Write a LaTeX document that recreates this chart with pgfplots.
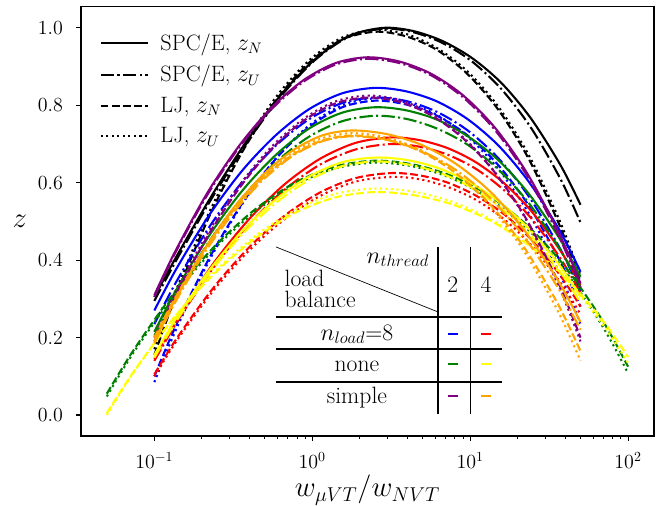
\documentclass[border=0pt]{standalone}
\usepackage{pgfplots}
\usepackage{pgfplotstable}
\pgfplotsset{compat=1.18}
\definecolor{mplgreen}{RGB}{0,128,0}
\definecolor{mplpurple}{RGB}{128,0,128}
\definecolor{mplorange}{RGB}{255,165,0}
\definecolor{mplyellow}{RGB}{255,255,0}
\definecolor{mplblue}{RGB}{0,0,255}
\definecolor{mplred}{RGB}{255,0,0}
\tikzset{
  mpldashdot/.style={dash pattern=on 9.6pt off 2.4pt on 1.5pt off 2.4pt},
  mpldashed/.style={dash pattern=on 5.55pt off 2.4pt},
  mpldotted/.style={dash pattern=on 1.5pt off 2.475pt},
}
% black SPC/E
\pgfplotstableread{
x ksol kdd
0.1 0.305 0.295
0.1396 0.413 0.404
0.2304 0.566 0.559
0.3802 0.705 0.699
0.6273 0.825 0.821
1.035 0.918 0.916
1.708 0.979 0.977
2.818 1.000 0.998
4.340 0.992 0.989
6.678 0.966 0.961
10.28 0.922 0.913
15.83 0.857 0.841
24.37 0.765 0.741
37.52 0.644 0.608
50 0.543 0.497
}\tabA
% black LJ, blue, green SPC/E, yellow SPC/E
\pgfplotstableread{
x kdash kdot bsol bdd bdash bdot gsol gdd ysol ydd
0.1 0.155 0.170 0.270 0.235 0.100 0.085 0.215 0.205 0.155 0.148
0.1380 0.312 0.325 0.378 0.345 0.234 0.223 0.324 0.312 0.251 0.243
0.2239 0.515 0.526 0.518 0.487 0.407 0.401 0.465 0.450 0.375 0.367
0.3631 0.682 0.690 0.633 0.604 0.549 0.547 0.581 0.563 0.477 0.468
0.5888 0.813 0.821 0.723 0.696 0.662 0.663 0.672 0.653 0.557 0.548
0.9550 0.910 0.916 0.790 0.764 0.744 0.748 0.740 0.719 0.616 0.607
1.549 0.970 0.975 0.831 0.806 0.795 0.800 0.781 0.759 0.653 0.643
2.512 0.990 0.995 0.845 0.820 0.812 0.818 0.795 0.773 0.665 0.655
3.935 0.978 0.984 0.836 0.811 0.802 0.807 0.787 0.765 0.659 0.648
6.163 0.943 0.948 0.810 0.783 0.773 0.775 0.763 0.740 0.639 0.628
9.652 0.880 0.887 0.764 0.735 0.722 0.719 0.720 0.698 0.604 0.593
15.11 0.788 0.796 0.696 0.663 0.645 0.635 0.658 0.634 0.552 0.540
23.67 0.659 0.669 0.601 0.563 0.539 0.519 0.570 0.546 0.480 0.468
37.08 0.487 0.500 0.475 0.430 0.398 0.364 0.454 0.428 0.385 0.371
50 0.345 0.360 0.370 0.320 0.280 0.235 0.357 0.330 0.305 0.290
}\tabE
% purple
\pgfplotstableread{
x psol pdd pdash pdot
0.1 0.310 0.305 0.190 0.200
0.1365 0.425 0.421 0.308 0.318
0.2175 0.575 0.570 0.462 0.469
0.3467 0.697 0.693 0.587 0.594
0.5526 0.794 0.790 0.687 0.693
0.8810 0.865 0.861 0.760 0.765
1.404 0.909 0.905 0.805 0.810
2.239 0.924 0.920 0.820 0.825
3.567 0.913 0.909 0.809 0.814
5.684 0.881 0.877 0.774 0.778
9.060 0.825 0.820 0.714 0.717
14.43 0.741 0.735 0.625 0.626
23.00 0.624 0.617 0.502 0.499
36.65 0.469 0.460 0.337 0.330
50 0.340 0.330 0.200 0.190
}\tabB
% orange
\pgfplotstableread{
x osol odd odash odot
0.1 0.190 0.185 0.200 0.190
0.1334 0.293 0.286 0.298 0.291
0.2053 0.425 0.416 0.425 0.422
0.3162 0.534 0.522 0.529 0.529
0.4870 0.620 0.607 0.612 0.614
0.7499 0.683 0.669 0.672 0.677
1.155 0.722 0.707 0.709 0.715
1.778 0.735 0.720 0.722 0.728
2.934 0.726 0.711 0.712 0.717
4.838 0.699 0.683 0.681 0.685
7.981 0.651 0.635 0.627 0.628
13.16 0.580 0.563 0.547 0.543
21.72 0.481 0.463 0.436 0.426
35.82 0.349 0.330 0.288 0.270
50 0.240 0.220 0.165 0.140
}\tabC
% red
\pgfplotstableread{
x rsol rdd rdash rdot
0.1 0.145 0.140 0.105 0.100
0.1413 0.253 0.245 0.203 0.197
0.2371 0.392 0.381 0.329 0.322
0.3981 0.506 0.493 0.433 0.425
0.6683 0.596 0.582 0.515 0.506
1.122 0.662 0.647 0.575 0.566
1.884 0.703 0.686 0.612 0.603
3.162 0.717 0.700 0.625 0.615
4.785 0.710 0.693 0.619 0.609
7.238 0.689 0.672 0.600 0.589
10.96 0.652 0.635 0.566 0.555
16.58 0.597 0.579 0.517 0.504
25.08 0.521 0.502 0.448 0.433
37.94 0.420 0.400 0.356 0.338
50 0.336 0.315 0.280 0.260
}\tabD
% green and yellow LJ
\pgfplotstableread{
x gdash gdot ydash ydot
0.05 0.055 0.048 0.005 0.000
0.07397 0.168 0.162 0.112 0.110
0.1331 0.315 0.308 0.251 0.252
0.2396 0.435 0.429 0.365 0.369
0.4310 0.530 0.524 0.455 0.461
0.7756 0.600 0.594 0.522 0.529
1.396 0.642 0.637 0.562 0.571
2.512 0.657 0.652 0.576 0.585
4.365 0.647 0.642 0.568 0.577
7.586 0.618 0.612 0.545 0.552
13.18 0.567 0.559 0.504 0.508
22.91 0.490 0.481 0.442 0.444
39.81 0.384 0.373 0.357 0.354
69.18 0.243 0.228 0.244 0.234
100 0.125 0.108 0.150 0.135
}\tabF
\begin{document}
\begin{tikzpicture}
\begin{axis}[
  scale only axis, width=412.6pt, height=308.9pt,
  xmode=log, xmin=0.0343, xmax=146, ymin=-0.054, ymax=1.054,
  xtick={0.1,1,10,100},
  ytick={0,0.2,0.4,0.6,0.8,1.0},
  tick align=outside, tick pos=left,
  major tick length=3.5pt, minor tick length=2pt,
  every tick/.style={black, line width=0.8pt},
  every minor tick/.append style={line width=0.6pt},
  axis line style={line width=0.8pt},
  tick label style={font=\fontsize{14.5}{17}\selectfont},
  yticklabel style={xshift=-6pt, /pgf/number format/.cd, fixed, fixed zerofill, precision=1},
  xticklabel style={yshift=-5pt},
  xlabel={$w_{\mu VT}/w_{NVT}$}, ylabel={$z$},
  xlabel style={font=\fontsize{21}{25}\selectfont, at={(axis description cs:0.5,0)}, anchor=center, yshift=-39pt},
  ylabel style={font=\fontsize{21}{25}\selectfont, at={(axis description cs:0,0.5)}, anchor=center, rotate=-90, xshift=-44pt},
  every axis plot/.append style={line width=1.5pt, smooth, no marks},
  legend cell align=left,
  legend image code/.code={\draw[#1] (0pt,0pt) -- (34pt,0pt); \path[draw=none] (0pt,0pt) -- (41pt,0pt);},
  legend style={at={(0.025,0.952)}, anchor=north west, draw=none, fill=none,
    font=\fontsize{16}{19}\selectfont, row sep=5.5pt},
]
\addplot[black] table[x=x,y=ksol]{\tabA}; \addlegendentry{SPC/E, $z_N$}
\addplot[black, mpldashdot] table[x=x,y=kdd]{\tabA}; \addlegendentry{SPC/E, $z_U$}
\addplot[black, mpldashed] table[x=x,y=kdash]{\tabE}; \addlegendentry{LJ, $z_N$}
\addplot[black, mpldotted] table[x=x,y=kdot]{\tabE}; \addlegendentry{LJ, $z_U$}
% blue
\addplot[mplblue, forget plot] table[x=x,y=bsol]{\tabE};
\addplot[mplblue, mpldashdot, forget plot] table[x=x,y=bdd]{\tabE};
\addplot[mplblue, mpldashed, forget plot] table[x=x,y=bdash]{\tabE};
\addplot[mplblue, mpldotted, forget plot] table[x=x,y=bdot]{\tabE};
% red
\addplot[mplred, forget plot] table[x=x,y=rsol]{\tabD};
\addplot[mplred, mpldashdot, forget plot] table[x=x,y=rdd]{\tabD};
\addplot[mplred, mpldashed, forget plot] table[x=x,y=rdash]{\tabD};
\addplot[mplred, mpldotted, forget plot] table[x=x,y=rdot]{\tabD};
% green
\addplot[mplgreen, forget plot] table[x=x,y=gsol]{\tabE};
\addplot[mplgreen, mpldashdot, forget plot] table[x=x,y=gdd]{\tabE};
\addplot[mplgreen, mpldashed, forget plot] table[x=x,y=gdash]{\tabF};
\addplot[mplgreen, mpldotted, forget plot] table[x=x,y=gdot]{\tabF};
% yellow
\addplot[mplyellow, forget plot] table[x=x,y=ysol]{\tabE};
\addplot[mplyellow, mpldashdot, forget plot] table[x=x,y=ydd]{\tabE};
\addplot[mplyellow, mpldashed, forget plot] table[x=x,y=ydash]{\tabF};
\addplot[mplyellow, mpldotted, forget plot] table[x=x,y=ydot]{\tabF};
% purple
\addplot[mplpurple, forget plot] table[x=x,y=psol]{\tabB};
\addplot[mplpurple, mpldashdot, forget plot] table[x=x,y=pdd]{\tabB};
\addplot[mplpurple, mpldashed, forget plot] table[x=x,y=pdash]{\tabB};
\addplot[mplpurple, mpldotted, forget plot] table[x=x,y=pdot]{\tabB};
% orange
\addplot[mplorange, forget plot] table[x=x,y=osol]{\tabC};
\addplot[mplorange, mpldashdot, forget plot] table[x=x,y=odd]{\tabC};
\addplot[mplorange, mpldashed, forget plot] table[x=x,y=odash]{\tabC};
\addplot[mplorange, mpldotted, forget plot] table[x=x,y=odot]{\tabC};
\end{axis}
% inset table
\draw[line width=0.5pt] (140.4pt,136.1pt) -- (257pt,89.3pt);
\draw[line width=1.4pt] (257pt,136.1pt) -- (257pt,15.8pt);
\draw[line width=0.8pt] (280.3pt,136.1pt) -- (280.3pt,15.8pt);
\draw[line width=1.4pt] (140.4pt,85.9pt) -- (303.1pt,85.9pt);
\draw[line width=0.8pt] (140.4pt,62.6pt) -- (303.1pt,62.6pt);
\draw[line width=1.4pt] (140.4pt,38.9pt) -- (303.1pt,38.9pt);
\begin{scope}[every node/.style={font=\fontsize{17}{15.5}\selectfont}]
\node at (228.2pt,126.7pt) {$n_{thread}$};
\node[anchor=west, align=left, inner sep=0pt] at (146.5pt,106pt) {load\\balance};
\node at (267.8pt,108.7pt) {2};
\node at (291.6pt,108.7pt) {4};
\node at (198.7pt,73.4pt) {$n_{load}$=8};
\node at (198.7pt,50.4pt) {none};
\node at (198.7pt,27.4pt) {simple};
\end{scope}
\draw[mplblue, line width=1.2pt] (264.2pt,73.4pt) -- (271.4pt,73.4pt);
\draw[mplred, line width=1.2pt] (288pt,73.4pt) -- (295.2pt,73.4pt);
\draw[mplgreen, line width=1.2pt] (264.2pt,52pt) -- (271.4pt,52pt);
\draw[mplyellow, line width=1.2pt] (288pt,52pt) -- (295.2pt,52pt);
\draw[mplpurple, line width=1.2pt] (264.2pt,29pt) -- (271.4pt,29pt);
\draw[mplorange, line width=1.2pt] (288pt,29pt) -- (295.2pt,29pt);
\pgfresetboundingbox
\useasboundingbox (-58.3pt,-50.4pt) rectangle (419.8pt,313.9pt);
\end{tikzpicture}
\end{document}
